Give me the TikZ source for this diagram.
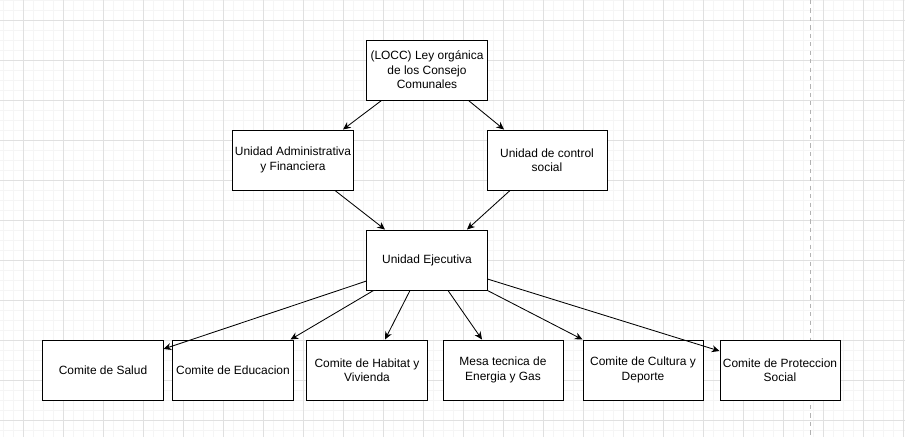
\documentclass[tikz,border=0pt]{standalone}
\usepackage{fontspec}
\setmainfont{Liberation Sans}
\usetikzlibrary{arrows.meta,positioning,calc}

\begin{document}
\begin{tikzpicture}[
    x=0.025cm, y=-0.025cm,
    box/.style={draw=black, fill=white, line width=0.7pt,
                minimum width=3cm, minimum height=1.5cm, inner sep=1pt,
                align=center, font=\fontsize{8.5}{10.3}\selectfont},
    arr/.style={-{Stealth[length=5.5pt, width=5pt]}, line width=0.6pt},
    minorgrid/.style={draw=black!4, line width=0.5pt},
    majorgrid/.style={draw=black!12, line width=0.5pt},
]

% --- Page and grid ---
\useasboundingbox (0,0) rectangle (905,437);
\fill[white] (0,0) rectangle (905,437);
\foreach \gx in {3,13,...,903} \draw[minorgrid] (\gx,0) -- (\gx,437);
\foreach \gy in {0,10,...,430} \draw[minorgrid] (0,\gy) -- (905,\gy);
\foreach \gx in {23,63,...,903} \draw[majorgrid] (\gx,0) -- (\gx,437);
\foreach \gy in {20,60,...,420} \draw[majorgrid] (0,\gy) -- (905,\gy);
\draw[black!30, dashed, line width=0.5pt] (810,0) -- (810,437);

% --- Top ---
\node[box] (locc) at (427,70) {(LOCC) Ley orgánica\\de los Consejo\\Comunales};
\node[box] (admin) at (293,160) {Unidad Administrativa\\y Financiera};
\node[box] (control) at (547,160) {Unidad de control\\social};
\node[box] (ejec) at (427,260) {Unidad Ejecutiva};
\draw[arr] ($(locc.south west)+(15,0)$) -- ($(admin.north)+(50,0)$);
\draw[arr] ($(locc.south east)+(-19,0)$) -- ($(control.north)+(-43,0)$);
\draw[arr] ($(admin.south)+(42,0)$) -- ($(ejec.north)+(-42,0)$);
\draw[arr] ($(control.south)+(-37,0)$) -- ($(ejec.north)+(40,0)$);

% --- Comites ---
\node[box] (salud) at (103,370) {Comite de Salud};
\node[box] (edu) at (233,370) {Comite de Educacion};
\node[box] (habitat) at (367,370) {Comite de Habitat y\\Vivienda};
\node[box] (mesa) at (503,370) {Mesa tecnica de\\Energia y Gas};
\node[box] (cultura) at (643,370) {Comite de Cultura y\\Deporte};
\node[box] (proteccion) at (780,370) {Comite de Proteccion\\Social};
\draw[arr] ($(ejec.west)+(0,21)$) -- ($(salud.east)+(0,-21)$);
\draw[arr] ($(ejec.south west)+(7,0)$) -- ($(edu.north east)+(-3,0)$);
\draw[arr] ($(ejec.south)+(-17,0)$) -- ($(habitat.north)+(18,0)$);
\draw[arr] ($(ejec.south)+(21,0)$) -- ($(mesa.north)+(-21,0)$);
\draw[arr] (ejec.south east) -- (cultura.north west);
\draw[arr] ($(ejec.east)+(0,19)$) -- ($(proteccion.west)+(0,-19)$);

\end{tikzpicture}
\end{document}
